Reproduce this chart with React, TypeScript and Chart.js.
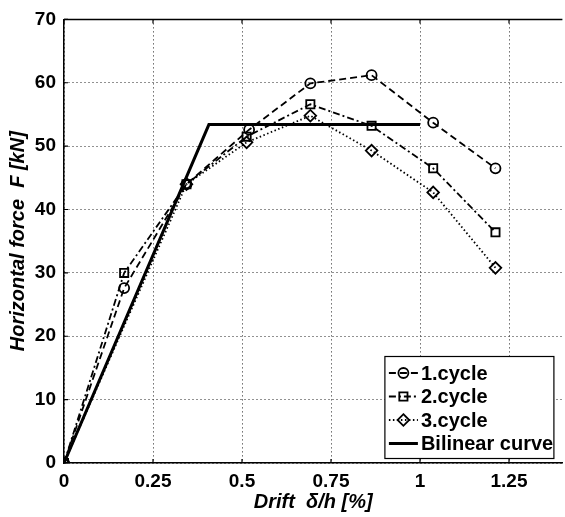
import React, { useEffect, useRef } from "react";
import { Chart, registerables } from "chart.js";

Chart.register(...registerables);

// ---- data ----
const driftCycle1 = [0, 0.169, 0.344, 0.52, 0.692, 0.864, 1.037, 1.212];
const forceCycle1 = [0, 27.6, 44.0, 52.6, 59.9, 61.2, 53.7, 46.5];
const driftCycle2 = [0, 0.169, 0.344, 0.513, 0.692, 0.864, 1.037, 1.212];
const forceCycle2 = [0, 30.0, 44.0, 51.5, 56.6, 53.2, 46.5, 36.4];
const driftCycle3 = [0, 0.344, 0.513, 0.692, 0.864, 1.037, 1.212];
const forceCycle3 = [0, 44.0, 50.6, 54.8, 49.3, 42.7, 30.8];
const driftBilinear = [0, 0.407, 1.0];
const forceBilinear = [0, 53.4, 53.4];
const seriesLabels = ["1.cycle", "2.cycle", "3.cycle", "Bilinear curve"];
const xTicks = [0, 0.25, 0.5, 0.75, 1, 1.25];
const yTicks = [0, 10, 20, 30, 40, 50, 60, 70];
const xTitle = "Drift  \u03b4/h [%]";
const yTitle = "Horizontal force  F [kN]";

const FONT = "'Liberation Sans', Arial, Helvetica, sans-serif";

const toPoints = (xs: number[], ys: number[]) => xs.map((x, i) => ({ x, y: ys[i] }));

function drawMarker(ctx: CanvasRenderingContext2D, style: string, x: number, y: number, r: number) {
  ctx.beginPath();
  if (style === "circle") {
    ctx.arc(x, y, r, 0, Math.PI * 2);
  } else if (style === "rect") {
    const s = r * Math.SQRT1_2;
    ctx.rect(x - s, y - s, 2 * s, 2 * s);
  } else if (style === "rectRot") {
    ctx.moveTo(x, y - r);
    ctx.lineTo(x + r, y);
    ctx.lineTo(x, y + r);
    ctx.lineTo(x - r, y);
    ctx.closePath();
  }
  ctx.stroke();
}

const framePlugin = {
  id: "frame",
  afterDatasetsDraw(chart: any) {
    const { ctx, chartArea } = chart;
    const { left, right, top, bottom } = chartArea;
    ctx.save();
    ctx.strokeStyle = "#000";
    ctx.lineWidth = 1.5;
    ctx.setLineDash([]);
    ctx.beginPath();
    ctx.moveTo(left, top);
    ctx.lineTo(right, top);
    ctx.stroke();
    ctx.lineWidth = 1.2;
    const xs = chart.scales.x;
    const ys = chart.scales.y;
    ctx.beginPath();
    xTicks.forEach((v) => {
      const px = xs.getPixelForValue(v);
      ctx.moveTo(px, bottom);
      ctx.lineTo(px, bottom - 4);
      ctx.moveTo(px, top);
      ctx.lineTo(px, top + 4);
    });
    yTicks.forEach((v) => {
      const py = ys.getPixelForValue(v);
      ctx.moveTo(left, py);
      ctx.lineTo(left + 4, py);
    });
    ctx.stroke();
    ctx.restore();
  },
};

const legendPlugin = {
  id: "customLegend",
  afterDraw(chart: any) {
    const { ctx, chartArea } = chart;
    const boxRight = chartArea.right - 8.5;
    const boxBottom = chartArea.bottom - 4.5;
    const boxLeft = boxRight - 169;
    const boxTop = boxBottom - 102;
    ctx.save();
    ctx.fillStyle = "#fff";
    ctx.fillRect(boxLeft, boxTop, boxRight - boxLeft, boxBottom - boxTop);
    ctx.strokeStyle = "#000";
    ctx.lineWidth = 1.2;
    ctx.setLineDash([]);
    ctx.strokeRect(boxLeft, boxTop, boxRight - boxLeft, boxBottom - boxTop);
    chart.data.datasets.forEach((ds: any, i: number) => {
      const y = boxTop + 16.5 + i * 23.5;
      const x0 = boxLeft + 4;
      const x1 = boxLeft + 33;
      ctx.strokeStyle = "#000";
      ctx.lineWidth = ds.borderWidth;
      ctx.setLineDash(ds.borderDash || []);
      ctx.beginPath();
      ctx.moveTo(x0, y);
      ctx.lineTo(x1, y);
      ctx.stroke();
      ctx.setLineDash([]);
      if (ds.pointRadius > 0) {
        ctx.lineWidth = ds.pointBorderWidth;
        drawMarker(ctx, ds.pointStyle, (x0 + x1) / 2, y, ds.pointRadius);
      }
      ctx.fillStyle = "#000";
      ctx.font = `bold 20px ${FONT}`;
      ctx.textBaseline = "middle";
      ctx.textAlign = "left";
      ctx.fillText(ds.label, boxLeft + 36, y + 1);
    });
    ctx.restore();
  },
};

export default function App() {
  const ref = useRef<HTMLCanvasElement>(null);

  useEffect(() => {
    const canvas = ref.current;
    if (!canvas) return;
    const common = {
      borderColor: "#000",
      pointBorderColor: "#000",
      pointBackgroundColor: "rgba(0,0,0,0)",
      fill: false,
      tension: 0,
      showLine: true,
    };
    const chart = new Chart(canvas, {
      type: "line",
      data: {
        datasets: [
          {
            ...common,
            label: seriesLabels[0],
            data: toPoints(driftCycle1, forceCycle1),
            borderWidth: 1.8,
            borderDash: [7, 4],
            pointStyle: "circle",
            pointRadius: 5,
            pointBorderWidth: 1.8,
          },
          {
            ...common,
            label: seriesLabels[1],
            data: toPoints(driftCycle2, forceCycle2),
            borderWidth: 1.8,
            borderDash: [7, 3, 2, 3],
            pointStyle: "rect",
            pointRadius: 5.8,
            pointBorderWidth: 1.8,
          },
          {
            ...common,
            label: seriesLabels[2],
            data: toPoints(driftCycle3, forceCycle3),
            borderWidth: 1.8,
            borderDash: [1.5, 2.5],
            pointStyle: "rectRot",
            pointRadius: 5.8,
            pointBorderWidth: 1.8,
          },
          {
            ...common,
            label: seriesLabels[3],
            data: toPoints(driftBilinear, forceBilinear),
            borderWidth: 3,
            borderDash: [],
            pointRadius: 0,
            pointStyle: "circle",
            pointBorderWidth: 0,
          },
        ] as any,
      },
      options: {
        responsive: false,
        animation: false,
        devicePixelRatio: 1,
        layout: { padding: { left: 0, right: 0, top: 17, bottom: 0 } },
        plugins: {
          legend: { display: false },
          tooltip: { enabled: false },
        },
        scales: {
          x: {
            type: "linear",
            min: 0,
            max: 1.4,
            afterFit: (s: any) => {
              s.height = 54;
            },
            afterBuildTicks: (s: any) => {
              s.ticks = xTicks.map((v) => ({ value: v }));
            },
            ticks: {
              color: "#000",
              font: { family: FONT, weight: "bold", size: 19 },
              padding: 7,
              maxRotation: 0,
              autoSkip: false,
              callback: (v: any) => String(v),
            },
            grid: { color: "#222", lineWidth: 1, drawTicks: false },
            border: { display: true, color: "#000", width: 1.5, dash: [1, 3] },
            title: {
              display: true,
              text: xTitle,
              color: "#000",
              font: { family: FONT, weight: "bold", style: "italic", size: 20, lineHeight: 1 },
              padding: { top: 0, bottom: 5 },
            },
          },
          y: {
            type: "linear",
            min: 0,
            max: 70,
            afterFit: (s: any) => {
              s.width = 64;
            },
            afterBuildTicks: (s: any) => {
              s.ticks = yTicks.map((v) => ({ value: v }));
            },
            ticks: {
              color: "#000",
              font: { family: FONT, weight: "bold", size: 19 },
              padding: 8,
              autoSkip: false,
              callback: (v: any) => String(v),
            },
            grid: { color: "#222", lineWidth: 1, drawTicks: false },
            border: { display: true, color: "#000", width: 1.5, dash: [1, 3] },
            title: {
              display: true,
              text: yTitle,
              color: "#000",
              font: { family: FONT, weight: "bold", style: "italic", size: 20, lineHeight: 1 },
              padding: { top: 8, bottom: 0 },
            },
          },
        },
      } as any,
      plugins: [framePlugin, legendPlugin],
    });
    return () => chart.destroy();
  }, []);

  return (
    <div style={{ position: "absolute", left: 0, top: 0, width: 565, height: 517, background: "#fff", overflow: "hidden" }}>
      <canvas ref={ref} width={570} height={517} style={{ display: "block", width: 570, height: 517 }} />
    </div>
  );
}
